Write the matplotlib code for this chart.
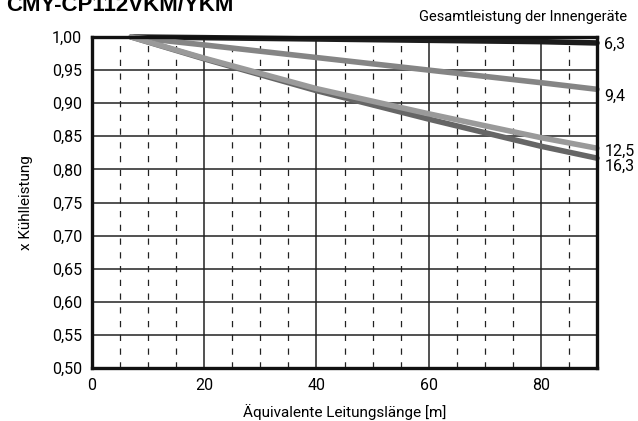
import matplotlib
matplotlib.use("Agg")
import matplotlib.pyplot as plt
from matplotlib.ticker import MultipleLocator, FuncFormatter
from matplotlib import font_manager

# ---- data ----
lengths = [7, 20, 40, 60, 80, 90]
series_names = ["6,3", "9,4", "12,5", "16,3"]
cap_63 = [1.000, 0.999, 0.997, 0.995, 0.993, 0.991]
cap_94 = [1.000, 0.988, 0.969, 0.950, 0.931, 0.921]
cap_125 = [1.000, 0.968, 0.922, 0.884, 0.848, 0.832]
cap_163 = [1.000, 0.967, 0.919, 0.876, 0.835, 0.817]
x_ticks = [0, 20, 40, 60, 80]
y_ticks = [0.50, 0.55, 0.60, 0.65, 0.70, 0.75, 0.80, 0.85, 0.90, 0.95, 1.00]

avail = {f.name for f in font_manager.fontManager.ttflist}
narrow = "Liberation Sans Narrow" if "Liberation Sans Narrow" in avail else "Roboto"
plt.rcParams['font.family'] = [narrow, 'DejaVu Sans']

fig = plt.figure(figsize=(6.38, 4.21), dpi=100)
ax = fig.add_axes([92/638, 1-368/421, (597-92)/638, (368-37)/421])

ax.set_xlim(0, 90)
ax.set_ylim(0.50, 1.00)

# grid
for xv in range(5, 90, 5):
    if xv % 20 == 0:
        ax.axvline(xv, color='#222222', lw=1.1, zorder=1)
    else:
        ax.axvline(xv, color='#222222', lw=0.9, ls=(0, (5, 6)), zorder=1)
for yv in y_ticks[1:-1]:
    ax.axhline(yv, color='#222222', lw=1.1, zorder=1)

colors = ['#1c1c1c', '#858585', '#9a9a9a', '#666666']
data = [cap_63, cap_94, cap_163, cap_125]
cols = [colors[0], colors[1], colors[3], colors[2]]
for vals, c in zip(data, cols):
    ax.plot(lengths, vals, color=c, lw=4.0, solid_capstyle='round', zorder=3, clip_on=False)

for s in ax.spines.values():
    s.set_linewidth(2.4)
    s.set_color('#111111')
    s.set_zorder(4)

ax.set_xticks(x_ticks)
ax.set_yticks(y_ticks)
ax.yaxis.set_major_formatter(FuncFormatter(lambda v, p: f"{v:.2f}".replace('.', ',')))
ax.tick_params(length=0, labelsize=11.5, pad=7)

ax.set_xlabel("Äquivalente Leitungslänge [m]", fontsize=11, labelpad=8)
ax.set_ylabel("x Kühlleistung", fontsize=11, labelpad=14)

label_y = [0.989, 0.911, 0.827, 0.805]
for name, ly in zip(series_names, label_y):
    ax.text(91.3, ly, name, fontsize=11.5, va='center', ha='left', clip_on=False)

fig.text(627/638, 1-17/421, "Gesamtleistung der Innengeräte", fontsize=10.5, ha='right', va='center')
fig.text(6/638, 1-11/421, "CMY-CP112VKM/YKM", fontsize=16, fontweight='bold',
         family=['Liberation Sans', 'DejaVu Sans'], ha='left', va='baseline')

fig.savefig("out.png", dpi=100)
